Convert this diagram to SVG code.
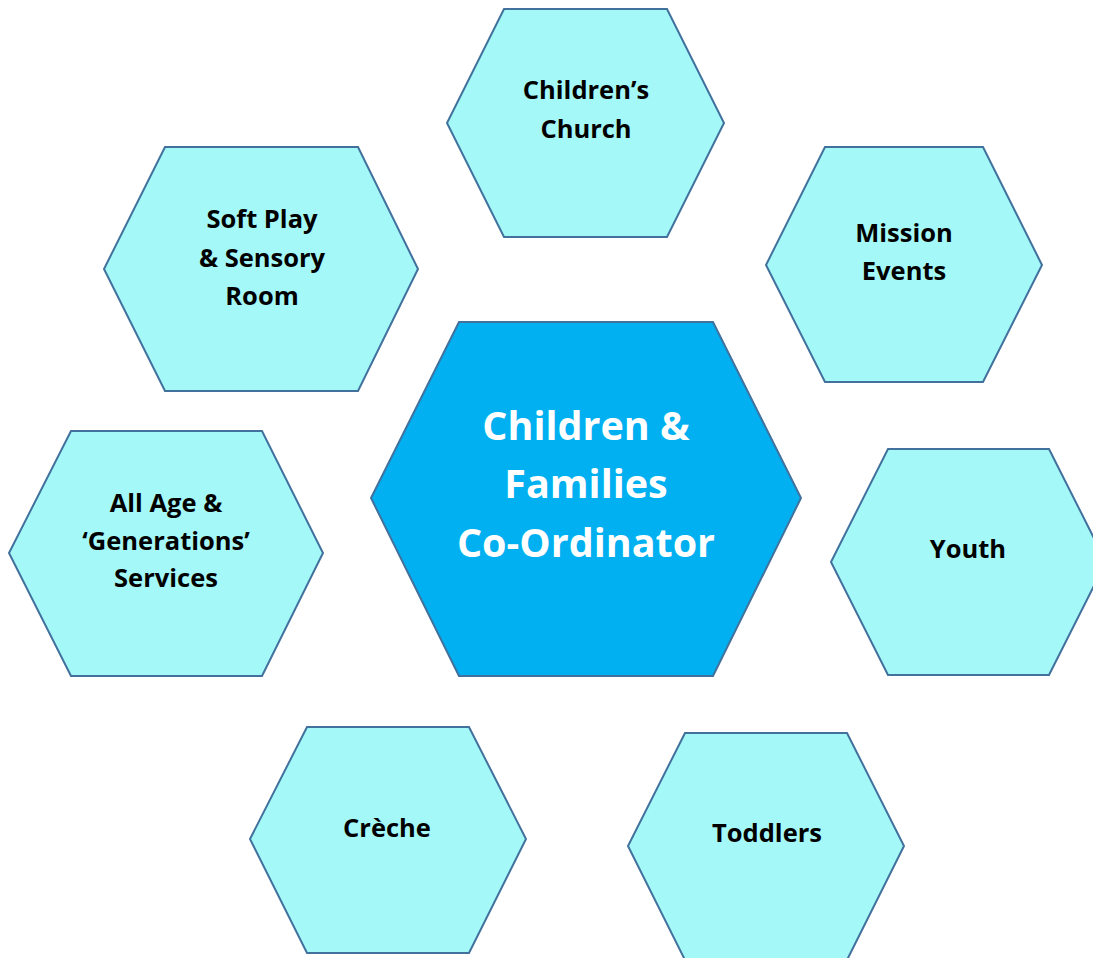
<svg xmlns="http://www.w3.org/2000/svg" width="1093" height="958" viewBox="0 0 1093 958">
<style>
.hex{fill:#a5f8f8;stroke:#41719c;stroke-width:2;stroke-linejoin:miter}
.core{fill:#00b0f0;stroke:#41719c;stroke-width:2}
.t{font-family:"Open Sans","Liberation Sans",sans-serif;font-weight:bold;font-size:25.5px;fill:#000;text-anchor:middle}
.c{font-family:"Open Sans","Liberation Sans",sans-serif;font-weight:bold;font-size:39.5px;fill:#fff;text-anchor:middle}
</style>
<rect width="1093" height="958" fill="#fff"/>
<g id="connectors"></g>
<g id="childrens-church">
<polygon class="hex" points="504,9 667,9 724,123 667,237 504,237 447,123"/>
<text class="t" x="586" y="99">Children’s</text>
<text class="t" x="586" y="138">Church</text>
</g>
<g id="soft-play">
<polygon class="hex" points="165,147 358,147 418,269 358,391 165,391 104,269"/>
<text class="t" x="262" y="228">Soft Play</text>
<text class="t" x="262" y="267">&amp; Sensory</text>
<text class="t" x="262" y="305">Room</text>
</g>
<g id="mission-events">
<polygon class="hex" points="825,147 983,147 1042,265 983,382 825,382 766,265"/>
<text class="t" x="904" y="242">Mission</text>
<text class="t" x="904" y="280">Events</text>
</g>
<g id="coordinator">
<polygon class="core" points="459,322 713,322 801,498 713,676 459,676 371,498"/>
<text class="c" x="586" y="440">Children &amp;</text>
<text class="c" x="586" y="498">Families</text>
<text class="c" x="586" y="557">Co-Ordinator</text>
</g>
<g id="all-age">
<polygon class="hex" points="71,431 262,431 323,553 262,676 71,676 9,553"/>
<text class="t" x="166" y="512">All Age &amp;</text>
<text class="t" x="166" y="550">‘Generations’</text>
<text class="t" x="166" y="587">Services</text>
</g>
<g id="youth">
<polygon class="hex" points="888,449 1049,449 1106,562 1049,675 888,675 831,562"/>
<text class="t" x="968" y="558">Youth</text>
</g>
<g id="creche">
<polygon class="hex" points="307,727 469,727 526,839 469,953 307,953 250,839"/>
<text class="t" x="387" y="837">Crèche</text>
</g>
<g id="toddlers">
<polygon class="hex" points="685,733 847,733 904,846 847,960 685,960 628,846"/>
<text class="t" x="767" y="842">Toddlers</text>
</g>
</svg>
